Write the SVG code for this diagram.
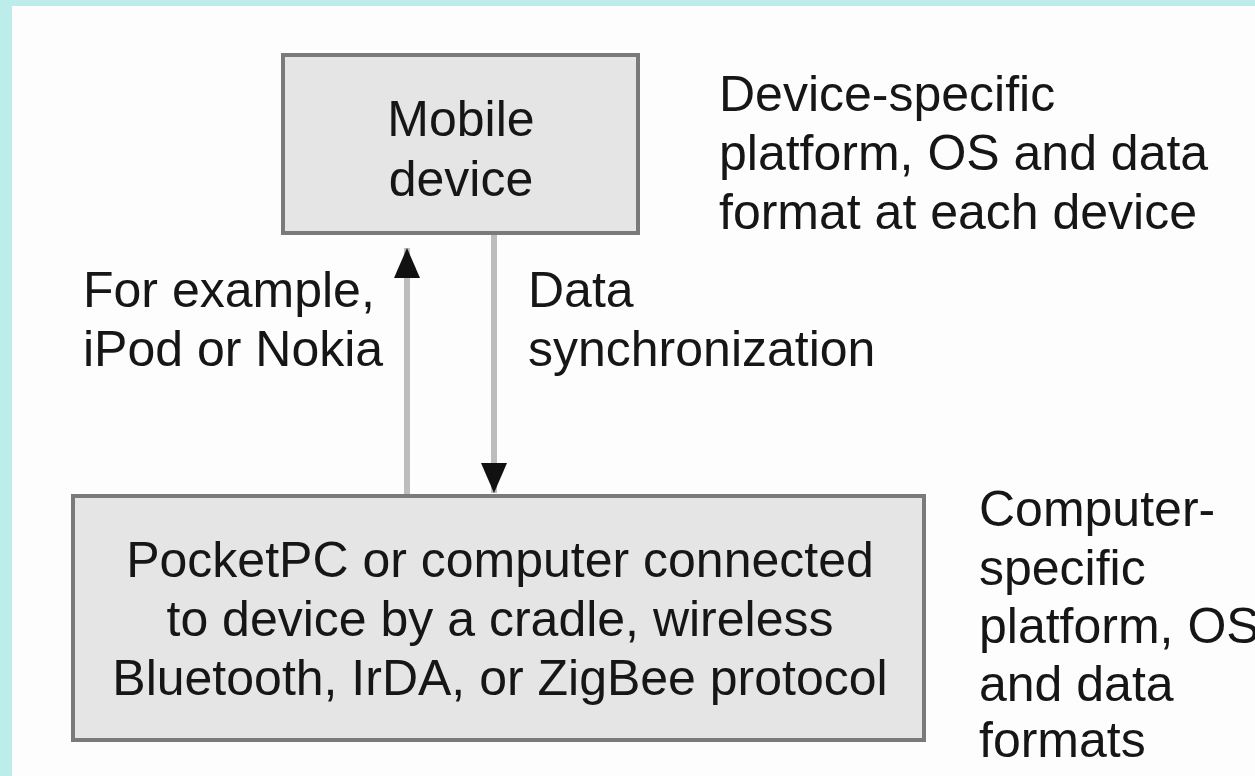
<svg xmlns="http://www.w3.org/2000/svg" width="1255" height="776" viewBox="0 0 1255 776">
  <style>
    .box { fill: #e5e5e5; stroke: #7a7a7a; stroke-width: 4; }
    .t { font-family: "Liberation Sans", Arial, sans-serif; font-size: 50px; fill: #161616; }
    .c { text-anchor: middle; }
    .conn { stroke: #bdbdbd; stroke-width: 6; fill: none; }
  </style>
  <defs>
    <marker id="ah" viewBox="0 0 30 26" refX="30" refY="13" markerWidth="30" markerHeight="26" markerUnits="userSpaceOnUse" orient="auto">
      <path d="M0,0 L30,13 L0,26 z" fill="#111"/>
    </marker>
  </defs>
  <rect x="0" y="0" width="1255" height="776" fill="#bcedeb"/>
  <rect x="12" y="6" width="1243" height="770" fill="#fdfdfd"/>

  <g id="connectors">
    <line class="conn" x1="407" y1="494" x2="407" y2="248" marker-end="url(#ah)"/>
    <line class="conn" x1="494" y1="235" x2="494" y2="493" marker-end="url(#ah)"/>
    <text class="t" x="83" y="307">For example,</text>
    <text class="t" x="83" y="366">iPod or Nokia</text>
    <text class="t" x="528" y="307">Data</text>
    <text class="t" x="528" y="366">synchronization</text>
  </g>

  <g id="mobile-device">
    <rect class="box" x="283" y="55" width="355" height="178"/>
    <text class="t c" x="461" y="136">Mobile</text>
    <text class="t c" x="461" y="196">device</text>
  </g>

  <g id="device-note">
    <text class="t" x="719" y="111">Device-specific</text>
    <text class="t" x="719" y="170">platform, OS and data</text>
    <text class="t" x="719" y="229">format at each device</text>
  </g>

  <g id="pocketpc">
    <rect class="box" x="73" y="496" width="851" height="244"/>
    <text class="t c" x="500" y="577">PocketPC or computer connected</text>
    <text class="t c" x="500" y="636">to device by a cradle, wireless</text>
    <text class="t c" x="500" y="695">Bluetooth, IrDA, or ZigBee protocol</text>
  </g>

  <g id="computer-note">
    <text class="t" x="979" y="526">Computer-</text>
    <text class="t" x="979" y="585">specific</text>
    <text class="t" x="979" y="643">platform, OS</text>
    <text class="t" x="979" y="701">and data</text>
    <text class="t" x="979" y="757">formats</text>
  </g>
</svg>
